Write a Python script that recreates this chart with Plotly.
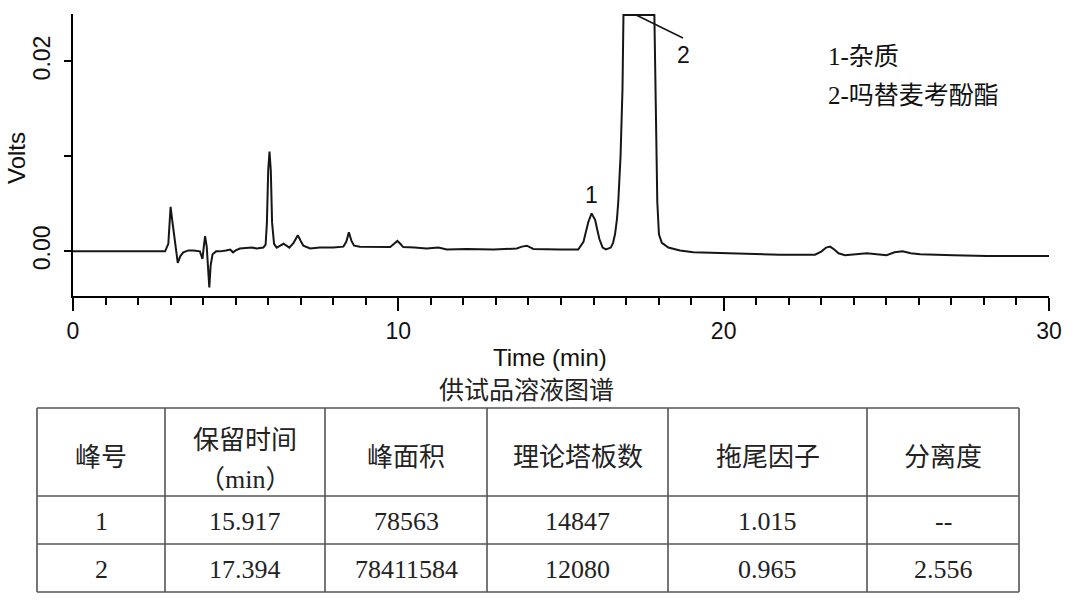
import plotly.graph_objects as go

# ---------------- data ----------------
time_min = [
    0.00, 1.00, 2.00, 2.83, 2.93, 3.00, 3.06, 3.10, 3.15, 3.22, 3.30, 3.39, 3.55, 3.70,
    3.90, 3.98, 4.02, 4.06, 4.11, 4.15, 4.19, 4.23, 4.29, 4.40, 4.52, 4.70, 4.83, 4.92,
    5.00, 5.13, 5.34, 5.50, 5.65, 5.85, 5.92, 5.96, 6.00, 6.04, 6.08, 6.12, 6.18, 6.26,
    6.37, 6.47, 6.56, 6.65, 6.78, 6.91, 7.00, 7.08, 7.29, 7.59, 8.00, 8.31, 8.40, 8.48,
    8.56, 8.64, 8.82, 9.34, 9.75, 9.87, 9.97, 10.06, 10.15, 10.50, 10.87, 11.23, 11.49,
    12.10, 12.92, 13.64, 13.80, 13.95, 14.15, 14.97, 15.53, 15.69, 15.78, 15.84, 15.94,
    16.05, 16.12, 16.18, 16.28, 16.38, 16.53, 16.60, 16.66, 16.72, 16.76, 16.80, 16.83,
    16.89, 16.92, 17.87, 17.92, 17.96, 18.01, 18.10, 18.30, 18.66, 19.07, 19.89, 20.90,
    21.73, 22.81, 23.01, 23.15, 23.27, 23.40, 23.53, 23.73, 24.05, 24.40, 24.70, 25.01,
    25.25, 25.50, 25.75, 26.04, 27.06, 28.09, 30.00,
]
volts = [
    0.0000, 0.0000, -0.00003, 0.0000, 0.0008, 0.0047, 0.0030, 0.0020, 0.0005, -0.0012,
    -0.0005, -0.0001, 0.0001, 0.0001, 0.0000, -0.0008, 0.0005, 0.0016, 0.0005, -0.0020,
    -0.0038, -0.0015, -0.0003, 0.0000, 0.0000, 0.0001, 0.0002, -0.0001, 0.0001, 0.0003,
    0.0004, 0.0004, 0.0003, 0.0004, 0.0007, 0.0030, 0.0085, 0.0105, 0.0085, 0.0030,
    0.0008, 0.0004, 0.0006, 0.0008, 0.0006, 0.0004, 0.0009, 0.0017, 0.0011, 0.0006,
    0.0003, 0.0004, 0.0004, 0.0005, 0.0010, 0.0020, 0.0011, 0.0006, 0.0005, 0.0005,
    0.00047, 0.0008, 0.0011, 0.0008, 0.00045, 0.0004, 0.0003, 0.0004, 0.0002, 0.00026,
    0.0002, 0.0003, 0.0005, 0.0006, 0.00026, 0.0002, 0.0002, 0.0010, 0.0022, 0.0031,
    0.0040, 0.0033, 0.0022, 0.0013, 0.0004, 0.0002, 0.0004, 0.0009, 0.0018, 0.0034,
    0.0052, 0.0075, 0.0100, 0.0171, 0.0249, 0.0249, 0.0151, 0.0052, 0.0018, 0.0009,
    0.0004, 0.0001, -0.0001, -0.0002, -0.0003, -0.00035, -0.00035, 0.0000, 0.0004,
    0.0005, 0.0002, -0.0002, -0.0004, -0.0003, -0.0002, -0.0003, -0.0004, -0.0001,
    0.0000, -0.0002, -0.0003, -0.0004, -0.0005, -0.0005,
]

peak_labels = ["1", "2"]
peak_label_time = [15.94, 18.75]
peak_label_volts = [0.00594, 0.02068]

legend_lines = ["1-杂质", "2-吗替麦考酚酯"]
subtitle = "供试品溶液图谱"

# ---------------- table data ----------------
table_headers = ["峰号", "保留时间<br>（min）", "峰面积", "理论塔板数", "拖尾因子", "分离度"]
peak_no = ["1", "2"]
retention_time = ["15.917", "17.394"]
peak_area = ["78563", "78411584"]
plate_number = ["14847", "12080"]
tailing_factor = ["1.015", "0.965"]
resolution = ["--", "2.556"]

# ---------------- layout helpers ----------------
W, H = 1080, 614
SANS = "Liberation Sans, Arial, sans-serif"
SERIF = "'Liberation Serif', 'Noto Sans CJK SC', serif"
INK = "#111111"


def px(x):
    return x / W


def py(y):
    return 1 - y / H


fig = go.Figure()
fig.add_trace(go.Scatter(
    x=time_min, y=volts, mode="lines",
    line=dict(color="#161616", width=2),
    showlegend=False, hoverinfo="skip",
))

axis_common = dict(
    showline=True, linecolor="black", linewidth=1.8,
    ticks="outside", tickcolor="black", tickwidth=1.8,
    showgrid=False, zeroline=False, automargin=False,
    tickfont=dict(family=SANS, size=23, color=INK),
)

fig.update_layout(
    width=W, height=H,
    margin=dict(l=0, r=0, t=0, b=0, pad=0),
    paper_bgcolor="white", plot_bgcolor="white",
    xaxis=dict(
        domain=[px(73), px(1049)], range=[0, 30],
        tick0=0, dtick=10, ticklen=13,
        minor=dict(dtick=1, ticklen=7, tickwidth=1.5, tickcolor="black", ticks="outside"),
        **axis_common,
    ),
    yaxis=dict(
        domain=[py(296), py(14)], range=[-0.0047, 0.025],
        tick0=0, dtick=0.02, tickformat=".2f", ticklen=7, tickangle=-90,
        ticklabelstandoff=5,
        minor=dict(dtick=0.01, ticklen=7, tickwidth=1.5, tickcolor="black", ticks="outside"),
        **axis_common,
    ),
)

annotations = []
# axis titles
annotations.append(dict(text="Time (min)", x=px(550), y=py(357), xref="paper", yref="paper",
                        showarrow=False, xanchor="center", yanchor="middle",
                        font=dict(family=SANS, size=24, color=INK)))
annotations.append(dict(text="Volts", x=px(16), y=py(158), xref="paper", yref="paper",
                        showarrow=False, xanchor="center", yanchor="middle", textangle=-90,
                        font=dict(family=SANS, size=24, color=INK)))
# peak labels
for lab, tx, vy in zip(peak_labels, peak_label_time, peak_label_volts):
    annotations.append(dict(text=lab, x=tx, y=vy, xref="x", yref="y", showarrow=False,
                            xanchor="center", yanchor="middle",
                            font=dict(family=SANS, size=23, color=INK)))
# legend text
for i, line in enumerate(legend_lines):
    annotations.append(dict(text=line, x=px(826), y=py(56 + 40 * i), xref="paper", yref="paper",
                            showarrow=False, xanchor="left", yanchor="middle",
                            font=dict(family=SERIF, size=25, color=INK)))
# subtitle
annotations.append(dict(text=subtitle, x=px(526), y=py(391), xref="paper", yref="paper",
                        showarrow=False, xanchor="center", yanchor="middle",
                        font=dict(family=SERIF, size=25, color="#222222")))

# ---------------- table ----------------
col_edges = [37, 165, 325, 487, 668, 867, 1019]
row_edges = [408, 496, 544, 592]
rows = [peak_no, retention_time, peak_area, plate_number, tailing_factor, resolution]

shapes = []
line_style = dict(color="#555555", width=1.6)
for xe in col_edges:
    shapes.append(dict(type="line", xref="paper", yref="paper",
                       x0=px(xe), x1=px(xe), y0=py(row_edges[0]), y1=py(row_edges[-1]),
                       line=line_style))
for ye in row_edges:
    shapes.append(dict(type="line", xref="paper", yref="paper",
                       x0=px(col_edges[0]), x1=px(col_edges[-1]), y0=py(ye), y1=py(ye),
                       line=line_style))

cell_font = dict(family=SERIF, size=26, color="#222222")
for c, head in enumerate(table_headers):
    cx = px((col_edges[c] + col_edges[c + 1]) / 2)
    parts = head.split("<br>")
    if len(parts) == 1:
        ys = [457]
    else:
        ys = [440, 479]
    for part, yy in zip(parts, ys):
        annotations.append(dict(text=part, x=cx, y=py(yy), xref="paper", yref="paper",
                                showarrow=False, xanchor="center", yanchor="middle",
                                font=cell_font))
    for r in range(len(peak_no)):
        yy = (row_edges[r + 1] + row_edges[r + 2]) / 2 + 1
        annotations.append(dict(text=rows[c][r], x=cx, y=py(yy), xref="paper", yref="paper",
                                showarrow=False, xanchor="center", yanchor="middle",
                                font=cell_font))

# leader line from top of peak 2 to its label
shapes.append(dict(type="line", xref="x", yref="y", x0=17.31, y0=0.0249, x1=18.75, y1=0.02247,
                   line=dict(color="#161616", width=1.6)))

fig.update_layout(annotations=annotations, shapes=shapes)
fig.write_html(
    "out.html",
    config={"displayModeBar": False},
    post_script="document.body.style.margin='0';document.body.style.overflow='hidden';",
)
